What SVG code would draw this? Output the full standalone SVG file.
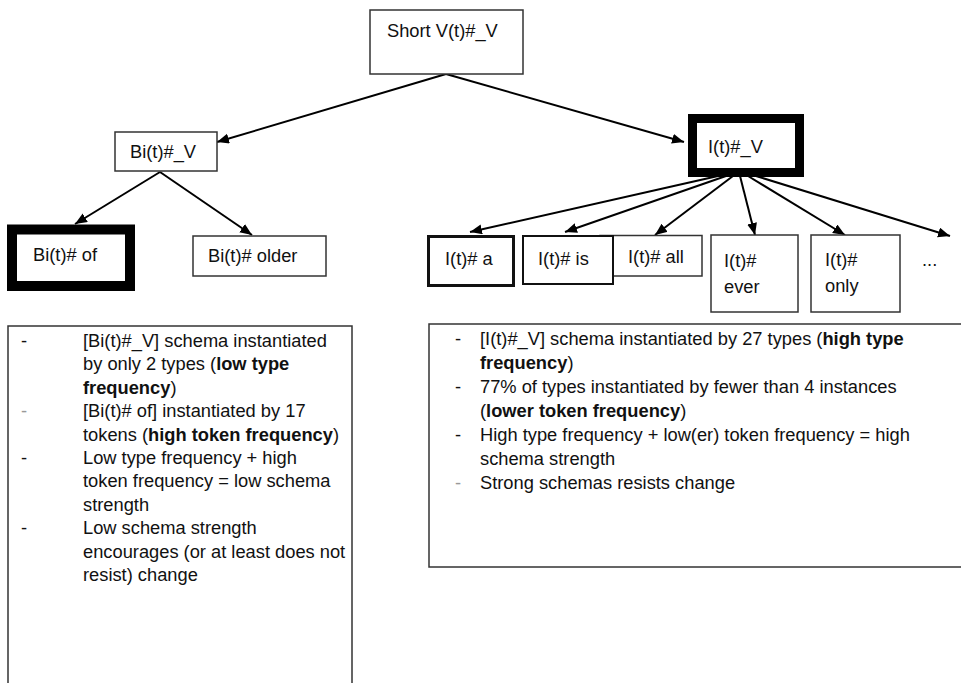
<svg xmlns="http://www.w3.org/2000/svg" width="961" height="683" viewBox="0 0 961 683">
<defs>
<marker id="ah" markerUnits="userSpaceOnUse" markerWidth="13" markerHeight="11" refX="12" refY="5" orient="auto">
<path d="M0,0 L12,5 L0,10 z" fill="#000"/>
</marker>
<style>
.box{fill:#fff;stroke:#333;stroke-width:1.5}
.t{font-family:"Liberation Sans",Arial,sans-serif;font-size:18.3px;fill:#111}
.b{font-weight:bold}
.c{stroke:#000;stroke-width:2;fill:none;marker-end:url(#ah)}
.d{fill:#111}
.dl{fill:#999}
</style>
</defs>
<rect width="961" height="683" fill="#fff"/>
<g id="connectors">
<line class="c" x1="446" y1="74" x2="217" y2="142"/>
<line class="c" x1="446" y1="74" x2="684" y2="142"/>
<line class="c" x1="160" y1="172" x2="75" y2="224"/>
<line class="c" x1="160" y1="172" x2="252" y2="235"/>
<line class="c" x1="718" y1="176" x2="470" y2="232"/>
<line class="c" x1="726" y1="176" x2="565" y2="232"/>
<line class="c" x1="733" y1="176" x2="655" y2="235"/>
<line class="c" x1="740" y1="176" x2="755" y2="235"/>
<line class="c" x1="748" y1="176" x2="845" y2="235"/>
<line class="c" x1="756" y1="176" x2="950" y2="236"/>
</g>
<g id="short">
<rect class="box" x="370" y="10" width="153" height="64"/>
<text class="t" x="387" y="37">Short V(t)#_V</text>
</g>
<g id="bi_v">
<rect class="box" x="115" y="132" width="102" height="39"/>
<text class="t" x="130" y="158">Bi(t)#_V</text>
</g>
<g id="bi_of">
<rect x="12" y="229.5" width="118" height="56.5" fill="#fff" stroke="#000" stroke-width="10"/>
<text class="t" x="33" y="261">Bi(t)# of</text>
</g>
<g id="bi_older">
<rect class="box" x="193" y="236" width="133" height="40"/>
<text class="t" x="208" y="262">Bi(t)# older</text>
</g>
<g id="i_v">
<rect x="692.5" y="118.5" width="107" height="54" fill="#fff" stroke="#000" stroke-width="9"/>
<text class="t" x="708" y="153">I(t)#_V</text>
</g>
<g id="i_a">
<rect x="428.5" y="236.5" width="85" height="49" fill="#fff" stroke="#111" stroke-width="3"/>
<text class="t" x="445" y="265">I(t)# a</text>
</g>
<g id="i_all">
<rect class="box" x="600" y="235.5" width="102" height="40.5"/>
<text class="t" x="628" y="263">I(t)# all</text>
</g>
<g id="i_is">
<rect x="523" y="236" width="90" height="48" fill="#fff" stroke="#111" stroke-width="2"/>
<text class="t" x="538" y="265">I(t)# is</text>
</g>
<g id="i_ever">
<rect class="box" x="711" y="235" width="87" height="77"/>
<text class="t" x="724" y="267">I(t)#</text>
<text class="t" x="724" y="293">ever</text>
</g>
<g id="i_only">
<rect class="box" x="811" y="235" width="89" height="77"/>
<text class="t" x="825" y="266">I(t)#</text>
<text class="t" x="825" y="292">only</text>
</g>
<g id="more">
<text class="t" x="922" y="266">...</text>
</g>
<g id="left_notes">
<rect class="box" x="8" y="326" width="344" height="370"/>
<text class="t d" x="21" y="347">-</text>
<text class="t" x="83" y="347">[Bi(t)#_V] schema instantiated</text>
<text class="t" x="83" y="370.4">by only 2 types (<tspan class="b">low type</tspan></text>
<text class="t" x="83" y="393.8"><tspan class="b">frequency</tspan>)</text>
<text class="t dl" x="21" y="417.2">-</text>
<text class="t" x="83" y="417.2">[Bi(t)# of] instantiated by 17</text>
<text class="t" x="83" y="440.6">tokens (<tspan class="b">high token frequency</tspan>)</text>
<text class="t d" x="21" y="464">-</text>
<text class="t" x="83" y="464">Low type frequency + high</text>
<text class="t" x="83" y="487.4">token frequency = low schema</text>
<text class="t" x="83" y="510.8">strength</text>
<text class="t d" x="21" y="534.2">-</text>
<text class="t" x="83" y="534.2">Low schema strength</text>
<text class="t" x="83" y="557.6">encourages (or at least does not</text>
<text class="t" x="83" y="581">resist) change</text>
</g>
<g id="right_notes">
<rect class="box" x="429" y="324" width="545" height="243"/>
<text class="t d" x="455" y="345">-</text>
<text class="t" x="480" y="345">[I(t)#_V] schema instantiated by 27 types (<tspan class="b">high type</tspan></text>
<text class="t" x="480" y="368.5"><tspan class="b">frequency</tspan>)</text>
<text class="t d" x="455" y="393">-</text>
<text class="t" x="480" y="393">77% of types instantiated by fewer than 4 instances</text>
<text class="t" x="480" y="416.5">(<tspan class="b">lower token frequency</tspan>)</text>
<text class="t d" x="455" y="441">-</text>
<text class="t" x="480" y="441">High type frequency + low(er) token frequency = high</text>
<text class="t" x="480" y="464.5">schema strength</text>
<text class="t dl" x="455" y="489">-</text>
<text class="t" x="480" y="489">Strong schemas resists change</text>
</g>
</svg>
